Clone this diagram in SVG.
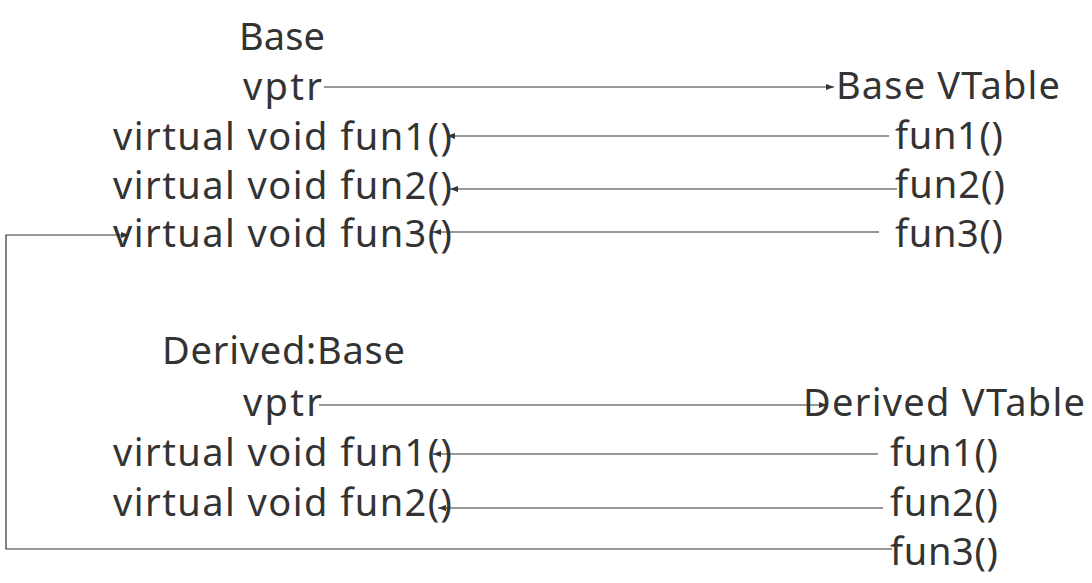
<svg xmlns="http://www.w3.org/2000/svg" width="1092" height="583" viewBox="0 0 1092 583">
<defs>
<style>
text{font-family:"Noto Sans","Open Sans","Liberation Sans",sans-serif;font-size:38px;fill:#333}
.c{stroke:#333;stroke-width:1.2;fill:none}
</style>
<marker id="a" markerWidth="8" markerHeight="6" refX="8" refY="3" orient="auto" markerUnits="userSpaceOnUse">
<path d="M0,0 L8,3 L0,6 Z" fill="#333"/>
</marker>
</defs>
<rect width="1092" height="583" fill="#fff"/>
<g id="base">
<text x="239" y="50" textLength="86" lengthAdjust="spacing">Base</text>
<text x="243" y="100" textLength="79" lengthAdjust="spacing">vptr</text>
<text x="113" y="150" textLength="339" lengthAdjust="spacing">virtual void fun1()</text>
<text x="113" y="199" textLength="339" lengthAdjust="spacing">virtual void fun2()</text>
<text x="113" y="247" textLength="339" lengthAdjust="spacing">virtual void fun3()</text>
</g>
<g id="base-vtable">
<text x="836" y="99" textLength="224" lengthAdjust="spacing">Base VTable</text>
<text x="895" y="149" textLength="108" lengthAdjust="spacing">fun1()</text>
<text x="895" y="198" textLength="110" lengthAdjust="spacing">fun2()</text>
<text x="895" y="247" textLength="108" lengthAdjust="spacing">fun3()</text>
</g>
<g id="derived">
<text x="162" y="364" textLength="243" lengthAdjust="spacing">Derived:Base</text>
<text x="243" y="416" textLength="79" lengthAdjust="spacing">vptr</text>
<text x="113" y="466" textLength="339" lengthAdjust="spacing">virtual void fun1()</text>
<text x="113" y="516" textLength="339" lengthAdjust="spacing">virtual void fun2()</text>
</g>
<g id="derived-vtable">
<text x="803" y="416" textLength="282" lengthAdjust="spacing">Derived VTable</text>
<text x="890" y="466" textLength="108" lengthAdjust="spacing">fun1()</text>
<text x="890" y="516" textLength="108" lengthAdjust="spacing">fun2()</text>
<text x="890" y="565" textLength="108" lengthAdjust="spacing">fun3()</text>
</g>
<g id="connectors">
<line class="c" x1="324" y1="87" x2="834" y2="87" marker-end="url(#a)"/>
<line class="c" x1="889" y1="136" x2="447" y2="136" marker-end="url(#a)"/>
<line class="c" x1="897" y1="189" x2="450" y2="189" marker-end="url(#a)"/>
<line class="c" x1="879" y1="232" x2="433" y2="232" marker-end="url(#a)"/>
<line class="c" x1="319" y1="405" x2="827" y2="405" marker-end="url(#a)"/>
<line class="c" x1="878" y1="454" x2="433" y2="454" marker-end="url(#a)"/>
<line class="c" x1="883" y1="508" x2="438" y2="508" marker-end="url(#a)"/>
<polyline class="c" points="892,549 6,549 6,235 129,235" marker-end="url(#a)"/>
</g>
</svg>
